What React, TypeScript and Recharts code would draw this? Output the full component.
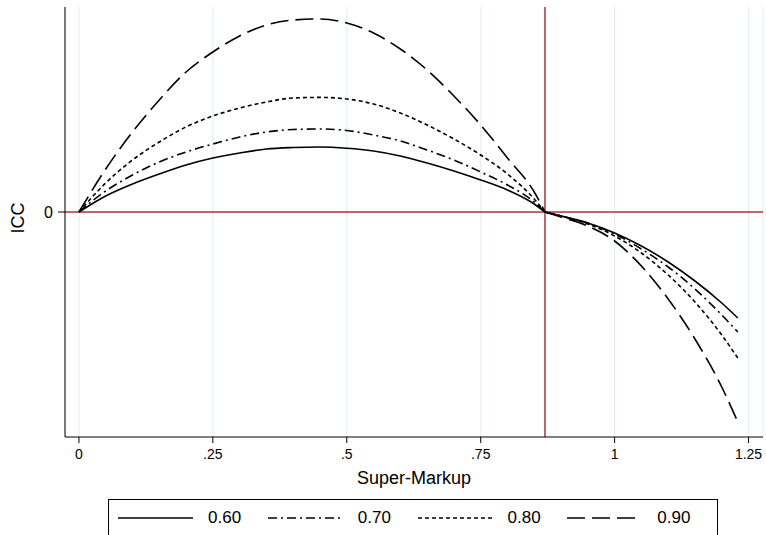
import { LineChart, Line, XAxis, YAxis, CartesianGrid, ReferenceLine } from 'recharts';

const xValues = [0, 0.05, 0.1, 0.15, 0.2, 0.25, 0.3, 0.35, 0.4, 0.45, 0.5, 0.55, 0.6, 0.65, 0.7, 0.75, 0.8, 0.85, 0.87, 0.9, 0.95, 1.0, 1.05, 1.1, 1.15, 1.2, 1.23];

const icc60 = [0, 16, 28, 38, 47, 54, 59, 63, 64.5, 65, 63.8, 61, 56, 49, 41, 32, 22, 8, 0, -4, -11, -21, -34, -50, -69, -91, -106];
const icc70 = [0, 21, 37, 50, 60, 68, 75, 80, 82.5, 83, 81.5, 77, 71, 62, 52, 40, 27, 10, 0, -4, -11, -22, -37, -55, -77, -103, -120];
const icc80 = [0, 29, 52, 70, 85, 96, 104, 110, 114, 114.6, 113, 108, 99, 87, 73, 57, 38, 13, 0, -4, -12, -24, -41, -63, -90, -123, -146];
const icc90 = [0, 43, 80, 112, 140, 160, 176, 187, 192, 193, 189, 179, 163, 142, 116, 87, 54, 20, 0, -5, -14, -29, -54, -87, -127, -175, -210];

const seriesNames = ['0.60', '0.70', '0.80', '0.90'];
const seriesKeys = ['s60', 's70', 's80', 's90'];
const seriesValues = [icc60, icc70, icc80, icc90];
const seriesDash = ['', '9 4 2 4', '4 3', '18 7'];

const xTicks = [0, 0.25, 0.5, 0.75, 1, 1.25];
const xTickLabels = ['0', '.25', '.5', '.75', '1', '1.25'];
const cutoff = 0.87;

// each curve split at the cut-off so the kink there stays sharp
const data = xValues.map((x, i) => {
  const row: Record<string, number | null> = { x };
  seriesKeys.forEach((k, s) => {
    row[k + 'L'] = x <= cutoff ? seriesValues[s][i] : null;
    row[k + 'R'] = x >= cutoff ? seriesValues[s][i] : null;
  });
  return row;
});

const font = '"Liberation Sans", Arial, sans-serif';
const red = '#a3363b';

function YTitle(props: any) {
  const vb = props.viewBox || { y: 7, height: 430 };
  const cy = vb.y + vb.height / 2 - 4;
  return (
    <text x={18} y={cy} transform={`rotate(-90, 18, ${cy})`} textAnchor="middle" dominantBaseline="central"
      fontSize={18} fill="#000" fontFamily={font}>
      ICC
    </text>
  );
}

function ChartLegend() {
  return (
    <div style={{
      position: 'absolute', left: 108, top: 499, width: 610, height: 44,
      border: '1px solid #000', background: '#fff', display: 'flex', alignItems: 'flex-start',
      paddingLeft: 9, boxSizing: 'border-box', fontFamily: font, fontSize: 17,
    }}>
      {seriesNames.map((name, i) => (
        <div key={name} style={{ display: 'flex', alignItems: 'center', width: 157, height: 36 }}>
          <svg width={75} height={10}>
            <line x1={0} y1={5} x2={75} y2={5} stroke="#000" strokeWidth={1.6} strokeDasharray={seriesDash[i] || undefined} />
          </svg>
          <span style={{ marginLeft: 15 }}>{name}</span>
        </div>
      ))}
    </div>
  );
}

export default function App() {
  return (
    <div style={{ position: 'absolute', left: 0, top: 0, width: 766, height: 535, background: '#fff', overflow: 'hidden' }}>
      <LineChart width={766} height={535} data={data} margin={{ top: 7, right: 3, left: 0, bottom: 48 }}>
        <CartesianGrid horizontal={false} stroke="#e6eef2" strokeWidth={1.2} />
        <XAxis
          dataKey="x"
          type="number"
          domain={[-0.026, 1.277]}
          ticks={xTicks}
          tickFormatter={(v: number) => xTickLabels[xTicks.indexOf(v)] ?? String(v)}
          height={50}
          tickSize={6}
          tickMargin={6}
          stroke="#000"
          tick={{ fill: '#000', fontSize: 14, fontFamily: font }}
          label={{ value: 'Super-Markup', position: 'insideBottom', offset: 3, fill: '#000', fontSize: 18, fontFamily: font }}
          allowDataOverflow
        />
        <YAxis
          type="number"
          domain={[-225, 205]}
          ticks={[0]}
          width={65}
          tickSize={7}
          tickMargin={5}
          stroke="#000"
          tick={{ fill: '#000', fontSize: 16, fontFamily: font }}
          label={<YTitle />}
          allowDataOverflow
        />
        <ReferenceLine y={0} stroke={red} strokeWidth={1.5} />
        <ReferenceLine x={cutoff} stroke={red} strokeWidth={1.5} />
        {seriesKeys.flatMap((k, i) =>
          ['L', 'R'].map((side) => (
            <Line
              key={k + side}
              dataKey={k + side}
              name={seriesNames[i]}
              type="monotone"
              stroke="#000"
              strokeWidth={1.6}
              strokeDasharray={seriesDash[i] || undefined}
              dot={false}
              activeDot={false}
              isAnimationActive={false}
            />
          ))
        )}
      </LineChart>
      <ChartLegend />
    </div>
  );
}
